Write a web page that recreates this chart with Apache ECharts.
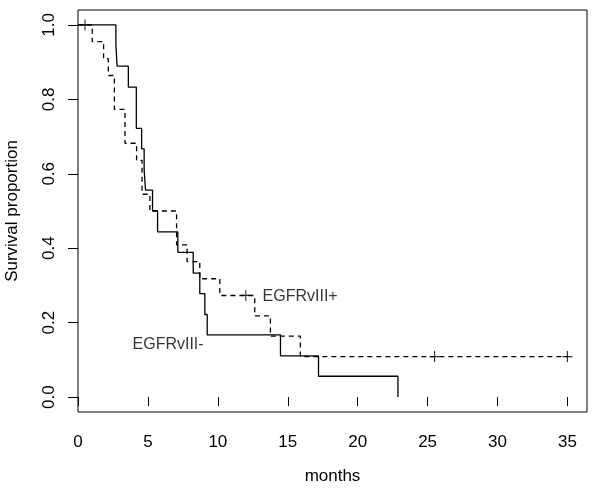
<!DOCTYPE html>
<html>
<head>
<meta charset="utf-8">
<script src="https://cdn.jsdelivr.net/npm/echarts@6/dist/echarts.min.js"></script>
<style>
html,body{margin:0;padding:0;background:#fff;}
#chart{width:600px;height:491px;}
</style>
</head>
<body>
<div id="chart"></div>
<script>
// EGFRvIII- (solid): event times (months) and survival after each step
const negTimes = [0, 2.71, 2.8, 3.6, 4.17, 4.55, 4.73, 4.83, 5.33, 5.69, 7.14, 8.24, 8.71, 9.07, 9.24, 14.48, 17.2, 22.88];
const negSurv  = [1.0, 0.944, 0.889, 0.833, 0.722, 0.667, 0.611, 0.556, 0.5, 0.444, 0.389, 0.333, 0.278, 0.222, 0.167, 0.111, 0.056, 0.0];

// EGFRvIII+ (dashed)
const posTimes = [0, 1.02, 1.83, 2.17, 2.6, 3.36, 4.19, 4.58, 5.14, 7.05, 7.8, 8.71, 10.14, 12.64, 13.76, 15.9, 35.0];
const posSurv  = [1.0, 0.955, 0.909, 0.864, 0.773, 0.682, 0.636, 0.545, 0.5, 0.409, 0.364, 0.318, 0.273, 0.218, 0.164, 0.109, 0.109];

// censored observations (EGFRvIII+)
const censorTimes = [0.5, 12.0, 25.5, 35.0];
const censorSurv  = [1.0, 0.273, 0.109, 0.109];

// annotation labels
const labelTexts = ['EGFRvIII+', 'EGFRvIII-'];
const labelX = [13.2, 3.9];
const labelY = [0.27, 0.142];

// axis ticks
const xTicks = [0, 5, 10, 15, 20, 25, 30, 35];
const yTicks = [0, 0.2, 0.4, 0.6, 0.8, 1.0];

const FONT = 'Liberation Sans, Arial, sans-serif';

const zip = (a, b) => a.map((v, i) => [v, b[i]]);

const chart = echarts.init(document.getElementById('chart'), null, {renderer: 'canvas'});
chart.setOption({
  animation: false,
  backgroundColor: '#fff',
  grid: {left: 78, right: 13, top: 10, bottom: 79, containLabel: false, outerBoundsMode: 'none',
         show: true, borderColor: '#000', borderWidth: 1, backgroundColor: 'transparent'},
  xAxis: {
    type: 'value', min: 0, max: 36.4,
    name: 'months', nameLocation: 'middle', nameGap: 56,
    nameTextStyle: {fontFamily: FONT, fontSize: 17, color: '#000'},
    axisLine: {show: false},
    axisTick: {show: true, inside: false, length: 9, customValues: xTicks, lineStyle: {color: '#000', width: 1}},
    axisLabel: {show: true, customValues: xTicks, margin: 22, fontFamily: FONT, fontSize: 17, color: '#000'},
    splitLine: {show: false}
  },
  yAxis: {
    type: 'value', min: -0.04, max: 1.04,
    name: 'Survival proportion', nameLocation: 'middle', nameGap: 57, nameRotate: 90,
    nameTextStyle: {fontFamily: FONT, fontSize: 17, color: '#000'},
    axisLine: {show: false},
    axisTick: {show: true, inside: false, length: 10, customValues: yTicks, lineStyle: {color: '#000', width: 1}},
    axisLabel: {show: true, customValues: yTicks, rotate: 90, margin: 20,
                formatter: v => Number(v).toFixed(1), fontFamily: FONT, fontSize: 17, color: '#000'},
    splitLine: {show: false}
  },
  series: [
    {
      name: 'EGFRvIII-', type: 'line', step: 'end', showSymbol: false, symbol: 'none',
      data: zip(negTimes, negSurv),
      lineStyle: {color: '#000', width: 1.3, type: 'solid'}
    },
    {
      name: 'EGFRvIII+', type: 'line', step: 'end', showSymbol: false, symbol: 'none',
      data: zip(posTimes, posSurv),
      lineStyle: {color: '#000', width: 1.3, type: [5, 4]}
    },
    {
      name: 'censor', type: 'scatter',
      symbol: 'path://M5,0L5,10M0,5L10,5', symbolSize: [10, 11], symbolKeepAspect: false,
      itemStyle: {color: 'none', borderColor: '#000', borderWidth: 1.2},
      data: zip(censorTimes, censorSurv)
    },
    {
      name: 'labels', type: 'scatter', symbolSize: 0, silent: true,
      data: labelTexts.map((t, i) => ({value: [labelX[i], labelY[i]], name: t})),
      label: {show: true, position: 'right', distance: 0, formatter: p => p.name,
              fontFamily: FONT, fontSize: 16, color: '#000', verticalAlign: 'middle'}
    }
  ]
});
</script>
</body>
</html>
